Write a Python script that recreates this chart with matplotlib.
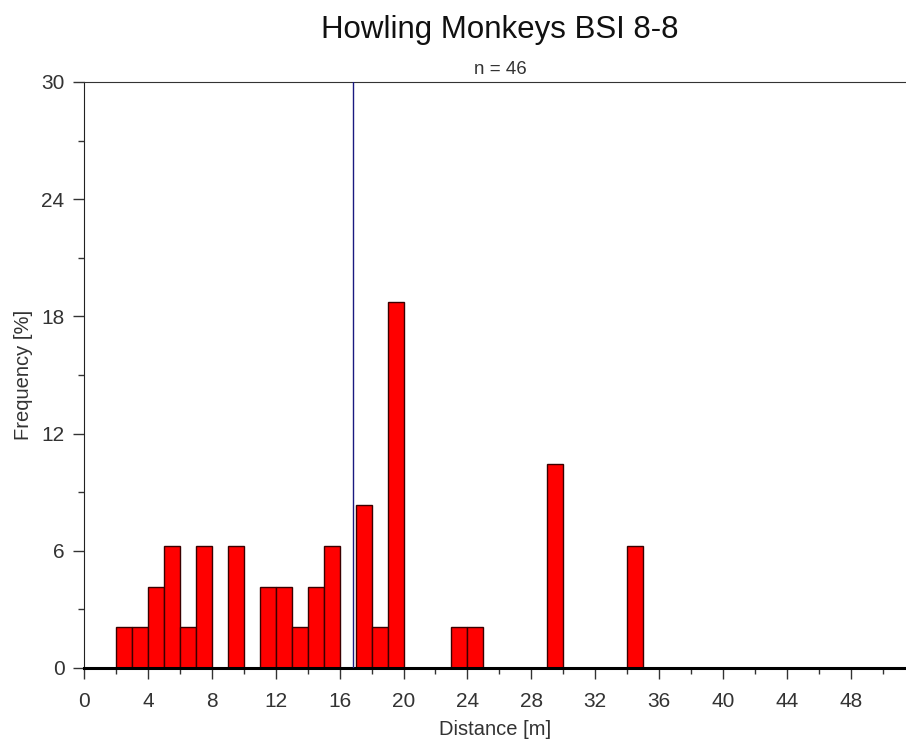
import matplotlib.pyplot as plt
from matplotlib.ticker import MultipleLocator

plt.rcParams['font.family'] = ['Liberation Sans', 'DejaVu Sans']

# 1 m distance bins (left edges) and their frequencies in percent
bin_left = [2, 3, 4, 5, 6, 7, 9, 11, 12, 13, 14, 15, 17, 18, 19, 23, 24, 29, 34]
freq_pct = [2.08, 2.08, 4.17, 6.25, 2.08, 6.25, 6.25, 4.17, 4.17, 2.08,
            4.17, 6.25, 8.33, 2.08, 18.75, 2.08, 2.08, 10.42, 6.25]
mean_dist = 16.86
n_obs = 46

fig = plt.figure(figsize=(9.06, 7.44), dpi=100)
ax = fig.add_axes([0.0927, 0.1022, 0.9073, 0.7876])

ax.bar(bin_left, freq_pct, width=1.0, align='edge', color='#ff0000',
       edgecolor='#3a0000', linewidth=1.0, zorder=2)
ax.axvline(mean_dist, color='#1a1a80', linewidth=1.0, zorder=3)

ax.set_xlim(0, 51.45)
ax.set_ylim(0, 30)
ax.xaxis.set_major_locator(MultipleLocator(4))
ax.xaxis.set_minor_locator(MultipleLocator(2))
ax.yaxis.set_major_locator(MultipleLocator(6))
ax.yaxis.set_minor_locator(MultipleLocator(3))
ax.tick_params(which='major', direction='out', length=8, width=1, labelsize=15,
               colors='#333333')
ax.tick_params(axis='x', which='major', pad=9)
ax.tick_params(axis='y', which='major', pad=6)
ax.tick_params(which='minor', direction='out', length=4, width=1, colors='#333333')

ax.spines['right'].set_visible(False)
ax.spines['top'].set_color('#333333')
ax.spines['left'].set_color('#222222')
ax.spines['bottom'].set_linewidth(2.2)
ax.spines['bottom'].set_color('black')

ax.set_xlabel('Distance [m]', fontsize=14.5, color='#333333', labelpad=7)
ax.set_ylabel('Frequency [%]', fontsize=14.5, color='#333333', labelpad=6)

fig.text(0.552, 0.949, 'Howling Monkeys BSI 8-8', ha='center', va='baseline',
         fontsize=22.5, color='#111111')
fig.text(0.552, 0.9, f'n = {n_obs}', ha='center', va='baseline',
         fontsize=13.5, color='#333333')

fig.savefig('out.png', dpi=100)
